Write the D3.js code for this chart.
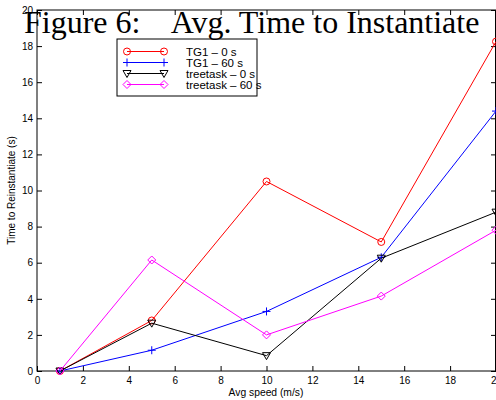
<!DOCTYPE html>
<html>
<head>
<meta charset="utf-8">
<script src="https://cdn.jsdelivr.net/npm/d3@7"></script>
<style>
body { margin: 0; background: #fff; }
svg { display: block; }
</style>
</head>
<body>
<script>
var w = 496;
var h = 400;

// data
var speeds = [1, 5, 10, 15, 20];
var tg1_0 = [0, 2.8, 10.5, 7.15, 18.25];
var tg1_60 = [0, 1.15, 3.3, 6.3, 14.4];
var tree_0 = [0, 2.65, 0.85, 6.25, 8.8];
var tree_60 = [0, 6.15, 2.0, 4.15, 7.8];
var seriesNames = ["TG1 \u2013 0 s", "TG1 \u2013 60 s", "treetask \u2013 0 s", "treetask \u2013 60 s"];
var seriesColors = ["#ff0000", "#0000ff", "#000000", "#ff00ff"];
var seriesMarkers = ["circle", "plus", "tri", "diamond"];
var xTicks = [0, 2, 4, 6, 8, 10, 12, 14, 16, 18, 20];
var yTicks = [0, 2, 4, 6, 8, 10, 12, 14, 16, 18, 20];

var allSeries = [tg1_0, tg1_60, tree_0, tree_60];

var pLeft = 37, pRight = 496, pTop = 10, pBottom = 371;

var x = d3.scaleLinear().domain([0, 20]).range([pLeft, pRight]);
var y = d3.scaleLinear().domain([0, 20]).range([pBottom, pTop]);

var svg = d3.select("body")
  .append("svg")
  .attr("width", w)
  .attr("height", h);

// axes (ticks inward, mirrored)
function styleAxis(g) {
  g.selectAll("text").attr("font-family", "Liberation Sans, Arial, sans-serif")
    .attr("font-size", "10px").attr("fill", "#000");
  g.select(".domain").remove();
  g.selectAll("line").attr("stroke", "#000");
}

svg.append("g").attr("transform", "translate(0," + pBottom + ")")
  .call(d3.axisBottom(x).tickValues(xTicks).tickSize(-5).tickPadding(6).tickFormat(d3.format("d")))
  .call(styleAxis);
svg.append("g").attr("transform", "translate(0," + pTop + ")")
  .call(d3.axisTop(x).tickValues(xTicks).tickSize(-5).tickFormat(""))
  .call(styleAxis);
svg.append("g").attr("transform", "translate(" + pLeft + ",0)")
  .call(d3.axisLeft(y).tickValues(yTicks).tickSize(-5).tickPadding(4).tickFormat(d3.format("d")))
  .call(styleAxis);
svg.append("g").attr("transform", "translate(" + pRight + ",0)")
  .call(d3.axisRight(y).tickValues(yTicks).tickSize(-5).tickFormat(""))
  .call(styleAxis);

svg.append("rect")
  .attr("x", pLeft).attr("y", pTop)
  .attr("width", pRight - pLeft - 0.5).attr("height", pBottom - pTop)
  .attr("fill", "none").attr("stroke", "#000").attr("stroke-width", 1);

// markers
function drawMarker(g, type, cx, cy, color) {
  if (type === "circle") {
    g.append("circle").attr("cx", cx).attr("cy", cy).attr("r", 3.5)
      .attr("fill", "none").attr("stroke", color);
  } else if (type === "plus") {
    g.append("path").attr("d", "M" + (cx - 4) + "," + cy + "H" + (cx + 4) + "M" + cx + "," + (cy - 4) + "V" + (cy + 4))
      .attr("stroke", color).attr("fill", "none");
  } else if (type === "tri") {
    g.append("path").attr("d", "M" + (cx - 4) + "," + (cy - 3) + "L" + (cx + 4) + "," + (cy - 3) + "L" + cx + "," + (cy + 4) + "Z")
      .attr("stroke", color).attr("fill", "none");
  } else if (type === "diamond") {
    g.append("path").attr("d", "M" + cx + "," + (cy - 4) + "L" + (cx + 4) + "," + cy + "L" + cx + "," + (cy + 4) + "L" + (cx - 4) + "," + cy + "Z")
      .attr("stroke", color).attr("fill", "none");
  }
}

var line = d3.line()
  .x(function(d, i) { return x(speeds[i]); })
  .y(function(d) { return y(d); });

allSeries.forEach(function(s, k) {
  var g = svg.append("g");
  g.append("path").datum(s).attr("d", line)
    .attr("fill", "none").attr("stroke", seriesColors[k]).attr("stroke-width", 1);
  s.forEach(function(v, i) {
    drawMarker(g, seriesMarkers[k], x(speeds[i]), y(v), seriesColors[k]);
  });
});

// legend
var lg = svg.append("g");
lg.append("rect").attr("x", 117).attr("y", 39).attr("width", 140).attr("height", 57)
  .attr("fill", "#fff").attr("stroke", "#000");
seriesNames.forEach(function(name, k) {
  var ly = 51.5 + k * 11;
  lg.append("line").attr("x1", 127).attr("x2", 164).attr("y1", ly).attr("y2", ly)
    .attr("stroke", seriesColors[k]);
  drawMarker(lg, seriesMarkers[k], 127, ly, seriesColors[k]);
  drawMarker(lg, seriesMarkers[k], 164, ly, seriesColors[k]);
  lg.append("text").attr("x", 186).attr("y", ly + 4).text(name)
    .attr("font-family", "Liberation Sans, Arial, sans-serif").attr("font-size", "11.5px");
});

// axis labels
svg.append("text").attr("x", 266).attr("y", 395.5)
  .attr("text-anchor", "middle").attr("font-family", "Liberation Sans, Arial, sans-serif")
  .attr("font-size", "10.3px").text("Avg speed (m/s)");
svg.append("text").attr("transform", "translate(15," + ((pTop + pBottom) / 2) + ") rotate(-90)")
  .attr("text-anchor", "middle").attr("font-family", "Liberation Sans, Arial, sans-serif")
  .attr("font-size", "10px").text("Time to Reinstantiate (s)");

// title overlay
svg.append("text").attr("x", 24).attr("y", 33)
  .attr("font-family", "Liberation Serif, Times New Roman, serif")
  .attr("font-size", "32px")
  .style("white-space", "pre")
  .text("Figure 6:    Avg. Time to Instantiate");
</script>
</body>
</html>
